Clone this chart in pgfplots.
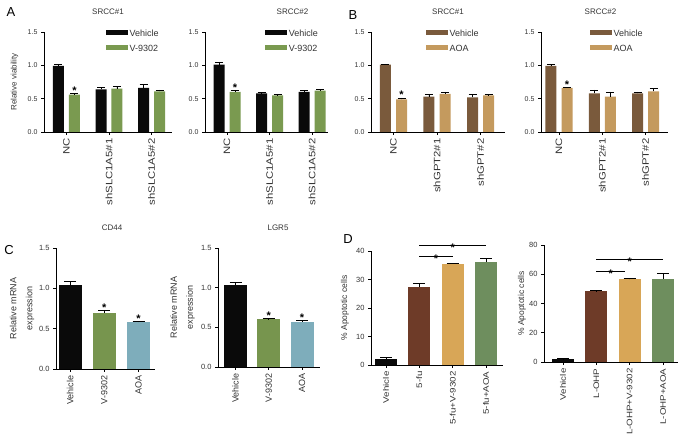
\documentclass[border=0pt]{standalone}
\usepackage{pgfplots}
\pgfplotsset{compat=1.18}
\usepackage{fontspec}
\setmainfont{Liberation Sans}
\newfontfamily\widefont{Liberation Sans}[FakeStretch=1.22]
\definecolor{blk}{HTML}{0A0A0A}
\definecolor{grnA}{HTML}{7A9A50}
\definecolor{brnB}{HTML}{7A5A3C}
\definecolor{tanB}{HTML}{C49A5E}
\definecolor{grnC}{HTML}{77954E}
\definecolor{bluC}{HTML}{7EADBB}
\definecolor{brnD}{HTML}{6E3B28}
\definecolor{orgD}{HTML}{D8A657}
\definecolor{grnD}{HTML}{6E8E5E}
\definecolor{txt}{HTML}{333333}
\pgfplotsset{
  base/.style={
    scale only axis, clip=false,
    axis x line*=bottom, axis y line*=left,
    axis line style={line width=0.9pt, black},
    tick align=outside, major tick length=3pt,
    tick style={line width=0.9pt, black},
    ymin=0,
    /pgf/number format/assume math mode=true,
    xticklabel style={rotate=90, anchor=east},
    legend image code/.code={\fill[##1,/tikz/.cd] (0pt,-1.8pt) rectangle (22pt,2.6pt);},
    legend style={draw=none, fill=none, anchor=north west, font=\fontsize{9}{10}\selectfont, text=txt,
      inner xsep=0pt, inner ysep=0pt, nodes={inner sep=1.5pt, text depth=0pt}, row sep=5.5pt},
    legend cell align=left,
  },
  fix1/.style={yticklabel style={/pgf/number format/.cd, fixed, fixed zerofill, precision=1}},
  ab/.style={base, fix1, width=#1, height=100pt, ymax=1.5, ytick={0,0.5,1,1.5}, xtick={0,1,2},
    tick label style={font=\fontsize{7}{8}\selectfont, text=txt},
    xticklabel style={font=\widefont\fontsize{9.3}{10}\selectfont}},
  eb/.style={error bars/y dir=plus, error bars/y explicit,
    error bars/error bar style={line width=0.9pt, black},
    error bars/error mark options={rotate=90, mark size=#1, line width=0.9pt, black}},
  ttl/.style={every axis title/.style={at={(0.5,1)}, anchor=south, yshift=#1, font=\fontsize{8}{9}\selectfont, text=txt}},
}
\tikzset{star/.style={anchor=base, font=\bfseries\fontsize{11}{11}\selectfont, yshift=-3.5pt, inner sep=0pt},
  starab/.style={star, yshift=2.5pt}}
\begin{document}
\begin{tikzpicture}[x=1pt,y=1pt]
\path[use as bounding box] (0,0) rectangle (680,444);
\node[font=\fontsize{13}{13}\selectfont] at (11,432) {A};
\node[font=\fontsize{13}{13}\selectfont] at (353,429) {B};
\node[font=\fontsize{13}{13}\selectfont] at (9,194) {C};
\node[font=\fontsize{13}{13}\selectfont] at (348,205) {D};

% ---- A1
\begin{axis}[ab=128pt, at={(44pt,312pt)}, anchor=south west, xmin=-0.529, xmax=2.482,
  xticklabels={NC,shSLC1A5\#1,shSLC1A5\#2},
  ylabel={Relative viability}, ylabel style={at={(axis description cs:-0.23,0.5)}, anchor=center, font=\fontsize{8}{9}\selectfont, text=txt},
  ttl=13.5pt, title={SRCC\#1},
  legend style={at={(axis description cs:0.484,1.04)}}]
\addplot[ybar, bar width=11pt, bar shift=0pt, fill=blk, draw=none, eb=4pt] coordinates {(-0.188,0.99) +- (0,0.03) (0.812,0.64) +- (0,0.03) (1.812,0.66) +- (0,0.05)};
\addplot[ybar, bar width=11pt, bar shift=0pt, fill=grnA, draw=none, eb=4pt] coordinates {(0.188,0.56) +- (0,0.02) (1.188,0.65) +- (0,0.03) (2.188,0.61) +- (0,0.02)};
\legend{Vehicle,V-9302}
\node[starab] at (axis cs:0.188,0.58) {*};
\end{axis}

% ---- A2
\begin{axis}[ab=123pt, at={(205pt,312pt)}, anchor=south west, xmin=-0.518, xmax=2.376,
  xticklabels={NC,shSLC1A5\#1,shSLC1A5\#2},
  ttl=13.5pt, title={SRCC\#2}, title style={xshift=26pt},
  legend style={at={(axis description cs:0.49,1.04)}}]
\addplot[ybar, bar width=11pt, bar shift=0pt, fill=blk, draw=none, eb=4pt] coordinates {(-0.188,1.01) +- (0,0.04) (0.812,0.58) +- (0,0.01) (1.812,0.60) +- (0,0.02)};
\addplot[ybar, bar width=11pt, bar shift=0pt, fill=grnA, draw=none, eb=4pt] coordinates {(0.188,0.60) +- (0,0.02) (1.188,0.55) +- (0,0.01) (2.188,0.62) +- (0,0.02)};
\legend{Vehicle,V-9302}
\node[starab] at (axis cs:0.188,0.62) {*};
\end{axis}

% ---- B1
\begin{axis}[ab=134pt, at={(371pt,312pt)}, anchor=south west, xmin=-0.517, xmax=2.563,
  xticklabels={NC,shGPT2\#1,shGPT\#2},
  ttl=13.5pt, title={SRCC\#1}, title style={xshift=10pt},
  legend style={at={(axis description cs:0.41,1.04)}}]
\addplot[ybar, bar width=11pt, bar shift=0pt, fill=brnB, draw=none, eb=4pt] coordinates {(-0.184,1.01) +- (0,0.01) (0.816,0.53) +- (0,0.03) (1.816,0.52) +- (0,0.04)};
\addplot[ybar, bar width=11pt, bar shift=0pt, fill=tanB, draw=none, eb=4pt] coordinates {(0.184,0.49) +- (0,0.02) (1.184,0.57) +- (0,0.03) (2.184,0.55) +- (0,0.01)};
\legend{Vehicle,AOA}
\node[starab] at (axis cs:0.184,0.51) {*};
\end{axis}

% ---- B2
\begin{axis}[ab=127pt, at={(541pt,312pt)}, anchor=south west, xmin=-0.416, xmax=2.52,
  xticklabels={NC,shGPT2\#1,shGPT\#2},
  ttl=13.5pt, title={SRCC\#2}, title style={xshift=-4pt},
  legend style={at={(axis description cs:0.386,1.04)}}]
\addplot[ybar, bar width=11pt, bar shift=0pt, fill=brnB, draw=none, eb=4pt] coordinates {(-0.185,0.99) +- (0,0.03) (0.815,0.58) +- (0,0.05) (1.815,0.58) +- (0,0.02)};
\addplot[ybar, bar width=11pt, bar shift=0pt, fill=tanB, draw=none, eb=4pt] coordinates {(0.185,0.66) +- (0,0.01) (1.185,0.53) +- (0,0.07) (2.185,0.61) +- (0,0.04)};
\legend{Vehicle,AOA}
\node[starab] at (axis cs:0.185,0.67) {*};
\end{axis}

% ---- C1
\begin{axis}[base, fix1, width=99pt, height=121pt, at={(56pt,75pt)}, anchor=south west,
  xmin=-0.41, xmax=2.48, ymax=1.5, ytick={0,0.5,1,1.5}, xtick={0,1,2},
  xticklabels={Vehicle,V-9302,AOA},
  tick label style={font=\fontsize{7.5}{9}\selectfont, text=txt},
  xticklabel style={font=\fontsize{9}{10}\selectfont},
  ylabel={Relative mRNA\\expression}, ylabel style={at={(axis description cs:-0.343,0.5)}, anchor=center, align=center, font=\fontsize{9}{16}\selectfont, text=txt},
  every axis title/.style={at={(0.5,1)}, anchor=south, yshift=14pt, xshift=6.5pt, font=\fontsize{8}{9}\selectfont, text=txt},
  title={CD44}]
\addplot[ybar, bar width=23pt, bar shift=0pt, fill=blk, draw=none, eb=6pt] coordinates {(0,1.04) +- (0,0.05)};
\addplot[ybar, bar width=23pt, bar shift=0pt, fill=grnC, draw=none, eb=6pt] coordinates {(1,0.70) +- (0,0.03)};
\addplot[ybar, bar width=23pt, bar shift=0pt, fill=bluC, draw=none, eb=6pt] coordinates {(2,0.58) +- (0,0.01)};
\node[star] at (axis cs:1,0.76) {*};
\node[star] at (axis cs:2,0.62) {*};
\end{axis}

% ---- C2
\begin{axis}[base, fix1, width=102pt, height=119pt, at={(218pt,77pt)}, anchor=south west,
  xmin=-0.526, xmax=2.54, ymax=1.5, ytick={0,0.5,1,1.5}, xtick={0,1,2},
  xticklabels={Vehicle,V-9302,AOA},
  tick label style={font=\fontsize{7.5}{9}\selectfont, text=txt},
  xticklabel style={font=\fontsize{9}{10}\selectfont},
  ylabel={Relative mRNA\\expression}, ylabel style={at={(axis description cs:-0.348,0.5)}, anchor=center, align=center, font=\fontsize{9}{16}\selectfont, text=txt},
  every axis title/.style={at={(0.5,1)}, anchor=south, yshift=14pt, xshift=9pt, font=\fontsize{8}{9}\selectfont, text=txt},
  title={LGR5}]
\addplot[ybar, bar width=23pt, bar shift=0pt, fill=blk, draw=none, eb=6pt] coordinates {(0,1.03) +- (0,0.04)};
\addplot[ybar, bar width=23pt, bar shift=0pt, fill=grnC, draw=none, eb=6pt] coordinates {(1,0.60) +- (0,0.01)};
\addplot[ybar, bar width=23pt, bar shift=0pt, fill=bluC, draw=none, eb=6pt] coordinates {(2,0.57) +- (0,0.02)};
\node[star] at (axis cs:1,0.64) {*};
\node[star] at (axis cs:2,0.62) {*};
\end{axis}

% ---- D1
\begin{axis}[base, width=132pt, height=114pt, at={(371pt,79pt)}, anchor=south west,
  xmin=-0.45, xmax=3.51, ymax=40, ytick={0,10,20,30,40}, xtick={0,1,2,3},
  xticklabels={Vehicle,5-fu,5-fu+V-9302,5-fu+AOA},
  tick label style={font=\fontsize{7.5}{8}\selectfont, text=txt},
  xticklabel style={font=\widefont\fontsize{8}{10}\selectfont},
  ylabel={\% Apoptotic cells}, ylabel style={at={(axis description cs:-0.197,0.5)}, anchor=center, font=\fontsize{8.5}{10}\selectfont, text=txt}]
\addplot[ybar, bar width=22pt, bar shift=0pt, fill=blk, draw=none, eb=6pt] coordinates {(0,2.2) +- (0,0.4)};
\addplot[ybar, bar width=22pt, bar shift=0pt, fill=brnD, draw=none, eb=6pt] coordinates {(1,27.5) +- (0,1.2)};
\addplot[ybar, bar width=22pt, bar shift=0pt, fill=orgD, draw=none, eb=6pt] coordinates {(2,35.5) +- (0,0.2)};
\addplot[ybar, bar width=22pt, bar shift=0pt, fill=grnD, draw=none, eb=6pt] coordinates {(3,36.2) +- (0,1.3)};
\draw[line width=0.9pt] (axis cs:1,38) -- (axis cs:2,38);
\draw[line width=0.9pt] (axis cs:1,42) -- (axis cs:3,42);
\node[star, yshift=-2.5pt] at (axis cs:1.5,38) {*};
\node[star, yshift=-2.5pt] at (axis cs:2,42) {*};
\end{axis}

% ---- D2
\begin{axis}[base, width=134pt, height=117pt, at={(544pt,82pt)}, anchor=south west,
  xmin=-0.57, xmax=3.45, ymax=80, ytick={0,20,40,60,80}, xtick={0,1,2,3},
  xticklabels={Vehicle,L-OHP,L-OHP+V-9302,L-OHP+AOA},
  tick label style={font=\fontsize{7.5}{8}\selectfont, text=txt},
  xticklabel style={font=\widefont\fontsize{8}{10}\selectfont},
  ylabel={\% Apoptotic cells}, ylabel style={at={(axis description cs:-0.164,0.5)}, anchor=center, font=\fontsize{8.5}{10}\selectfont, text=txt}]
\addplot[ybar, bar width=22pt, bar shift=0pt, fill=blk, draw=none, eb=6pt] coordinates {(0,1.8) +- (0,0.3)};
\addplot[ybar, bar width=22pt, bar shift=0pt, fill=brnD, draw=none, eb=6pt] coordinates {(1,48.3) +- (0,0.3)};
\addplot[ybar, bar width=22pt, bar shift=0pt, fill=orgD, draw=none, eb=6pt] coordinates {(2,56.5) +- (0,0.8)};
\addplot[ybar, bar width=22pt, bar shift=0pt, fill=grnD, draw=none, eb=6pt] coordinates {(3,57) +- (0,3.8)};
\draw[line width=0.9pt] (axis cs:1,62.2) -- (axis cs:1.87,62.2);
\draw[line width=0.9pt] (axis cs:1,70.4) -- (axis cs:3,70.4);
\node[star, yshift=-2.5pt] at (axis cs:1.43,62.2) {*};
\node[star, yshift=-2.5pt] at (axis cs:2,70.4) {*};
\end{axis}
\end{tikzpicture}
\end{document}
